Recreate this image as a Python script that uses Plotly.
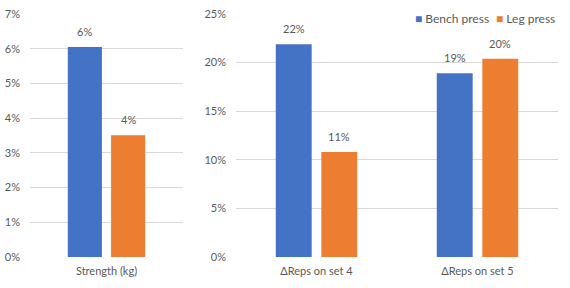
import plotly.graph_objects as go

left_categories = ["Strength (kg)"]
right_categories = ["\u0394Reps on set 4", "\u0394Reps on set 5"]
bench_left = [0.0605]
leg_left = [0.0351]
bench_right = [0.219, 0.189]
leg_right = [0.108, 0.204]
series_names = ["Bench press", "Leg press"]
colors = ["#4472C4", "#ED7D31"]

font_family = "Lato"
text_color = "#595959"
grid_color = "#D9D9D9"

BAR_W = 0.223
OFFSETS = [-0.253, 0.03]

W, H = 570, 288

def pct(v):
    return f"{round(v*100):.0f}%"

fig = go.Figure()
panels = [
    (left_categories, [bench_left, leg_left], "x", "y"),
    (right_categories, [bench_right, leg_right], "x2", "y2"),
]
annotations = []
for cats, series, xa, ya in panels:
    xs = list(range(len(cats)))
    for s, vals in enumerate(series):
        fig.add_trace(go.Bar(
            x=xs, y=vals, name=series_names[s], marker_color=colors[s],
            marker_line_width=0, width=BAR_W, offset=OFFSETS[s],
            xaxis=xa, yaxis=ya, showlegend=False, cliponaxis=False,
        ))
        for xi, v in zip(xs, vals):
            annotations.append(dict(
                x=xi + OFFSETS[s] + BAR_W / 2, y=v, xref=xa, yref=ya,
                text=pct(v), showarrow=False, yanchor="bottom", yshift=7,
                font=dict(size=11, color=text_color),
            ))

# legend drawn as text entries (top right)
legend_x = [413 / W, 494 / W]
for name, col, lx in zip(series_names, colors, legend_x):
    annotations.append(dict(
        x=lx, y=1 - 18 / H, xref="paper", yref="paper", xanchor="left", yanchor="middle",
        text=f"<span style='color:{col}'>\u25A0</span> {name}", showarrow=False,
        font=dict(size=12, color=text_color),
    ))

ybot = (H - 257) / H
ytop = (H - 14) / H

common_x = dict(showgrid=False, showline=False, zeroline=False, ticks="",
                ticklabelstandoff=6, automargin=False)
common_y = dict(gridcolor=grid_color, gridwidth=1, zeroline=False, showline=False,
                ticks="", ticklabelstandoff=9, tickformat=".0%", automargin=False)

fig.update_layout(
    width=W, height=H,
    margin=dict(l=0, r=0, t=0, b=0),
    paper_bgcolor="white", plot_bgcolor="white",
    font=dict(family=font_family, size=11, color=text_color),
    barmode="overlay", showlegend=False,
    xaxis=dict(domain=[30 / W, 183 / W], anchor="y", range=[-0.5, 0.5],
               tickvals=[0], ticktext=left_categories, **common_x),
    yaxis=dict(domain=[ybot, ytop], anchor="x", range=[0, 0.07], dtick=0.01, **common_y),
    xaxis2=dict(domain=[236 / W, 558 / W], anchor="y2", range=[-0.5, 1.5],
                tickvals=[0, 1], ticktext=right_categories, **common_x),
    yaxis2=dict(domain=[ybot, ytop], anchor="x2", range=[0, 0.25], dtick=0.05, **common_y),
    annotations=annotations,
)

fig.write_html("out.html")
